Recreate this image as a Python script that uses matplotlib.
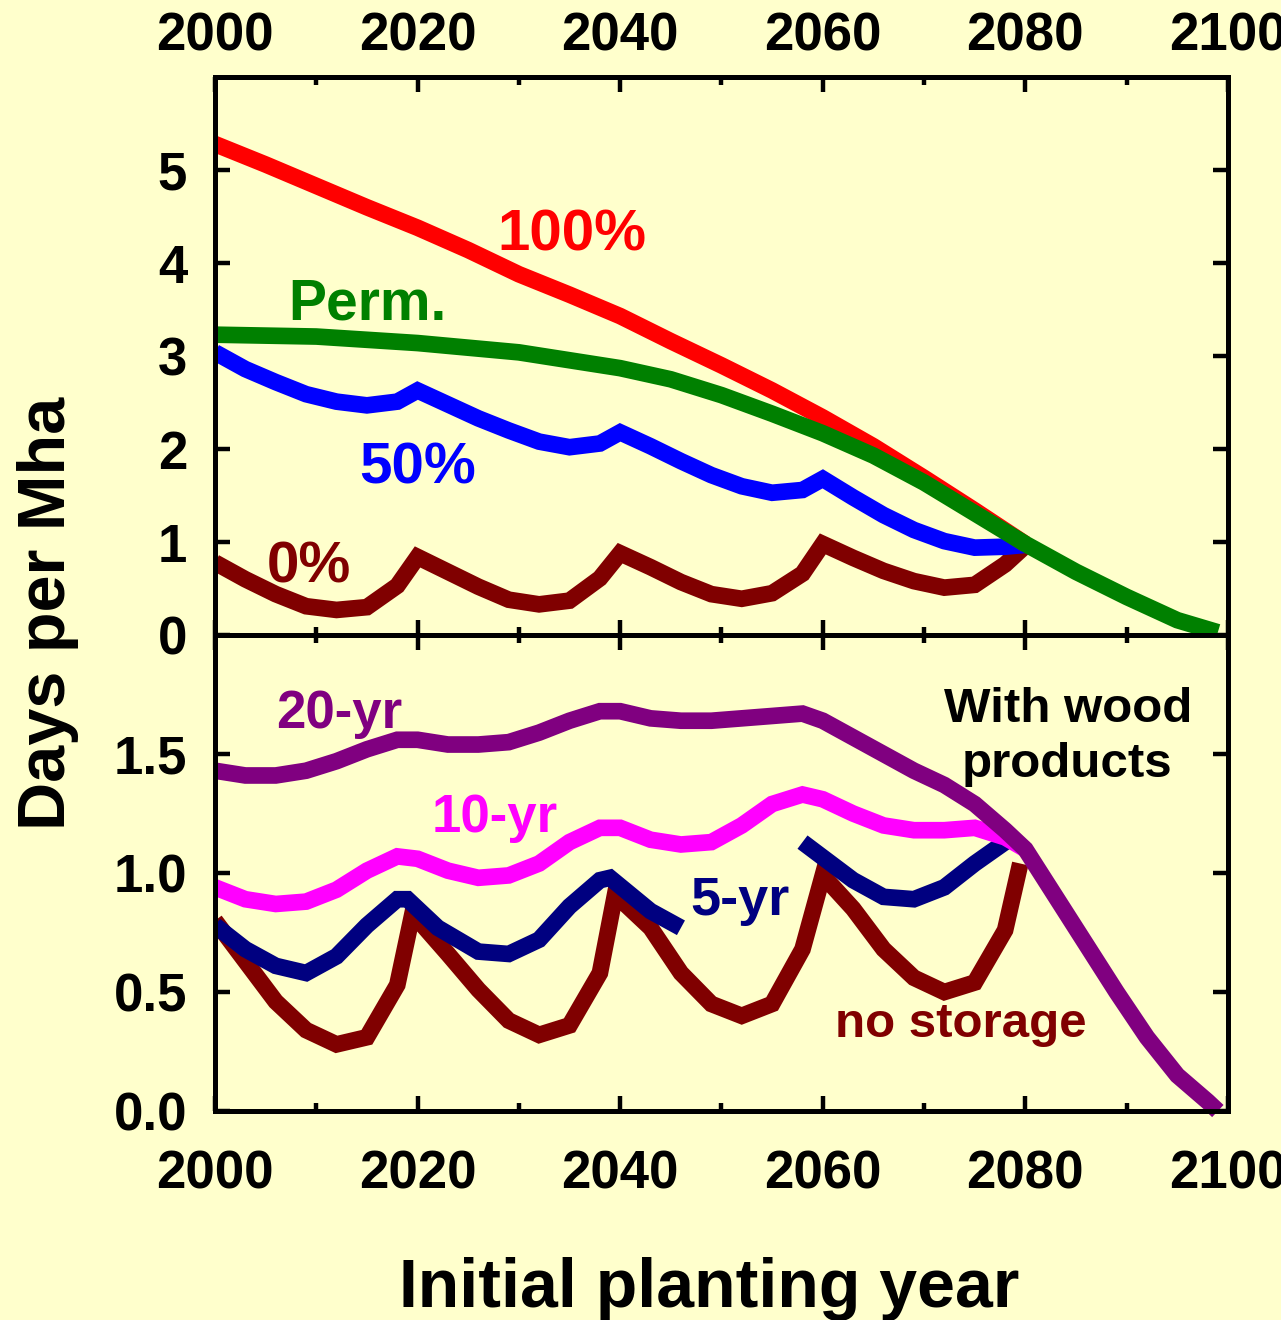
import matplotlib
matplotlib.use("Agg")
import matplotlib.pyplot as plt

# ---- data -------------------------------------------------------------
# Upper panel: land-use days per Mha for different storage fractions
cycle_years = [2000, 2003, 2006, 2009, 2012, 2015, 2018, 2020, 2023, 2026,
               2029, 2032, 2035, 2038, 2040, 2043, 2046, 2049, 2052, 2055,
               2058, 2060, 2063, 2066, 2069, 2072, 2075, 2078, 2080]
store_0 = [0.78, 0.60, 0.44, 0.31, 0.27, 0.30, 0.53, 0.84, 0.68, 0.52,
           0.38, 0.33, 0.37, 0.61, 0.88, 0.73, 0.57, 0.44, 0.39, 0.45,
           0.66, 0.98, 0.83, 0.69, 0.58, 0.51, 0.54, 0.76, 0.96]
store_50 = [3.04, 2.86, 2.72, 2.59, 2.51, 2.47, 2.51, 2.63, 2.48, 2.33,
            2.20, 2.08, 2.02, 2.06, 2.18, 2.03, 1.87, 1.72, 1.60, 1.53,
            1.56, 1.68, 1.48, 1.29, 1.13, 1.01, 0.94, 0.95, 0.97]
years_100 = [2000, 2005, 2010, 2015, 2020, 2025, 2030, 2035, 2040, 2045,
             2050, 2055, 2060, 2065, 2070, 2075, 2080]
store_100 = [5.28, 5.06, 4.83, 4.60, 4.38, 4.14, 3.88, 3.66, 3.43, 3.16,
             2.90, 2.63, 2.34, 2.03, 1.69, 1.34, 0.98]
years_perm = [2000, 2010, 2020, 2030, 2040, 2045, 2050, 2055, 2060, 2065,
              2070, 2075, 2080, 2085, 2090, 2095, 2099]
perm = [3.23, 3.21, 3.14, 3.04, 2.87, 2.75, 2.58, 2.38, 2.17, 1.93,
        1.64, 1.31, 0.98, 0.68, 0.41, 0.16, 0.03]

# Lower panel: with wood products, by product lifetime
years_nostore = [2000, 2003, 2006, 2009, 2012, 2015, 2018, 2019.5, 2023, 2026,
                 2029, 2032, 2035, 2038, 2039.5, 2043, 2046, 2049, 2052, 2055,
                 2058, 2060, 2063, 2066, 2069, 2072, 2075, 2078, 2079.5]
no_storage = [0.80, 0.63, 0.46, 0.34, 0.28, 0.31, 0.53, 0.83, 0.66, 0.51,
              0.38, 0.32, 0.36, 0.58, 0.91, 0.77, 0.58, 0.45, 0.40, 0.45,
              0.68, 0.99, 0.85, 0.68, 0.56, 0.50, 0.54, 0.76, 1.04]
years_5a = [2000, 2003, 2006, 2009, 2012, 2015, 2018, 2019, 2022, 2026,
            2029, 2032, 2035, 2038, 2039, 2043, 2046]
life_5a = [0.78, 0.68, 0.61, 0.58, 0.65, 0.78, 0.89, 0.89, 0.77, 0.67,
           0.66, 0.72, 0.86, 0.97, 0.98, 0.84, 0.77]
years_5b = [2058, 2063, 2066, 2069, 2072, 2075, 2078]
life_5b = [1.13, 0.97, 0.90, 0.89, 0.94, 1.04, 1.13]
life_10 = [0.94, 0.89, 0.87, 0.88, 0.93, 1.01, 1.07, 1.06, 1.01, 0.98,
           0.99, 1.04, 1.13, 1.19, 1.19, 1.14, 1.12, 1.13, 1.20, 1.29,
           1.33, 1.31, 1.25, 1.20, 1.18, 1.18, 1.19, 1.15, 1.10]
years_20 = [2000, 2003, 2006, 2009, 2012, 2015, 2018, 2020, 2023, 2026,
            2029, 2032, 2035, 2038, 2040, 2043, 2046, 2049, 2052, 2055,
            2058, 2060, 2063, 2066, 2069, 2072, 2075, 2078, 2080, 2083,
            2086, 2089, 2092, 2095, 2098, 2099]
life_20 = [1.43, 1.41, 1.41, 1.43, 1.47, 1.52, 1.56, 1.56, 1.54, 1.54,
           1.55, 1.59, 1.64, 1.68, 1.68, 1.65, 1.64, 1.64, 1.65, 1.66,
           1.67, 1.64, 1.57, 1.50, 1.43, 1.37, 1.29, 1.18, 1.10, 0.90,
           0.70, 0.50, 0.31, 0.15, 0.04, 0.00]

x_major = [2000, 2020, 2040, 2060, 2080, 2100]
x_minor = [2010, 2030, 2050, 2070, 2090]
top_yticks = [0, 1, 2, 3, 4, 5]
bot_yticks = [0.0, 0.5, 1.0, 1.5]
bot_ylabels = ["0.0", "0.5", "1.0", "1.5"]

# ---- style ------------------------------------------------------------
BG = "#FFFFCC"
plt.rcParams["font.family"] = ["Liberation Sans", "DejaVu Sans"]
plt.rcParams["font.weight"] = "bold"

LW = 12
line_kw = dict(lw=LW, solid_joinstyle="miter", solid_capstyle="butt")

fig = plt.figure(figsize=(12.81, 13.2), dpi=100, facecolor=BG)
ax1 = fig.add_axes([0.1678, 0.5189, 0.7908, 0.4227], facecolor=BG)
ax2 = fig.add_axes([0.1678, 0.1583, 0.7908, 0.3606], facecolor=BG)

for ax in (ax1, ax2):
    ax.set_xlim(2000, 2100)
    ax.set_xticks(x_major)
    ax.set_xticks(x_minor, minor=True)
    for s in ax.spines.values():
        s.set_linewidth(3.6)
    ax.tick_params(which="both", direction="in", top=True, bottom=True,
                   left=True, right=True, width=3.2, labelsize=38)
    ax.tick_params(which="major", length=11)
    ax.tick_params(which="minor", length=5.5)
    ax.tick_params(axis="y", pad=20)

# upper panel
ax1.set_ylim(0, 6)
ax1.set_yticks(top_yticks)
ax1.tick_params(axis="x", labeltop=True, labelbottom=False, pad=11)

ax1.plot(cycle_years, store_0, color="#800000", **line_kw)
ax1.plot(cycle_years, store_50, color="#0000FF", **line_kw)
ax1.plot(years_100, store_100, color="#FF0000", **line_kw)
ax1.plot(years_perm, perm, color="#008000", clip_on=False, **line_kw)

ax1.text(2027.9, 4.14, "100%", color="#FF0000", fontsize=42, va="baseline")
ax1.text(2007.2, 3.39, "Perm.", color="#008000", fontsize=41, va="baseline")
ax1.text(2014.2, 1.63, "50%", color="#0000FF", fontsize=42, va="baseline")
ax1.text(2005.1, 0.57, "0%", color="#800000", fontsize=42, va="baseline")

# lower panel
ax2.set_ylim(0, 2)
ax2.set_yticks(bot_yticks)
ax2.set_yticklabels(bot_ylabels)
ax2.tick_params(axis="x", labeltop=False, labelbottom=True, pad=28)

ax2.plot(years_nostore, no_storage, color="#800000", **line_kw)
ax2.plot(years_5a, life_5a, color="#000080", **line_kw)
ax2.plot(years_5b, life_5b, color="#000080", **line_kw)
ax2.plot(cycle_years, life_10, color="#FF00FF", **line_kw)
ax2.plot(years_20, life_20, color="#800080", clip_on=False, **line_kw)

ax2.text(2006.0, 1.608, "20-yr", color="#800080", fontsize=38, va="baseline")
ax2.text(2021.4, 1.174, "10-yr", color="#FF00FF", fontsize=38, va="baseline")
ax2.text(2046.9, 0.824, "5-yr", color="#000080", fontsize=39, va="baseline")
ax2.text(2084.2, 1.636, "With wood", color="black", fontsize=35.5,
         ha="center", va="baseline")
ax2.text(2084.1, 1.405, "products", color="black", fontsize=35.5,
         ha="center", va="baseline")
ax2.text(2061.2, 0.312, "no storage", color="#800000", fontsize=35.5,
         va="baseline")

# axis titles
fig.text(65 / 1281, 1 - 613 / 1320, "Days per Mha", rotation=90,
         rotation_mode="anchor", ha="center", va="baseline", fontsize=48)
fig.text(709.5 / 1281, 1 - 1306.7 / 1320, "Initial planting year",
         ha="center", va="baseline", fontsize=49)

fig.savefig("out.png", dpi=100, facecolor=BG)
